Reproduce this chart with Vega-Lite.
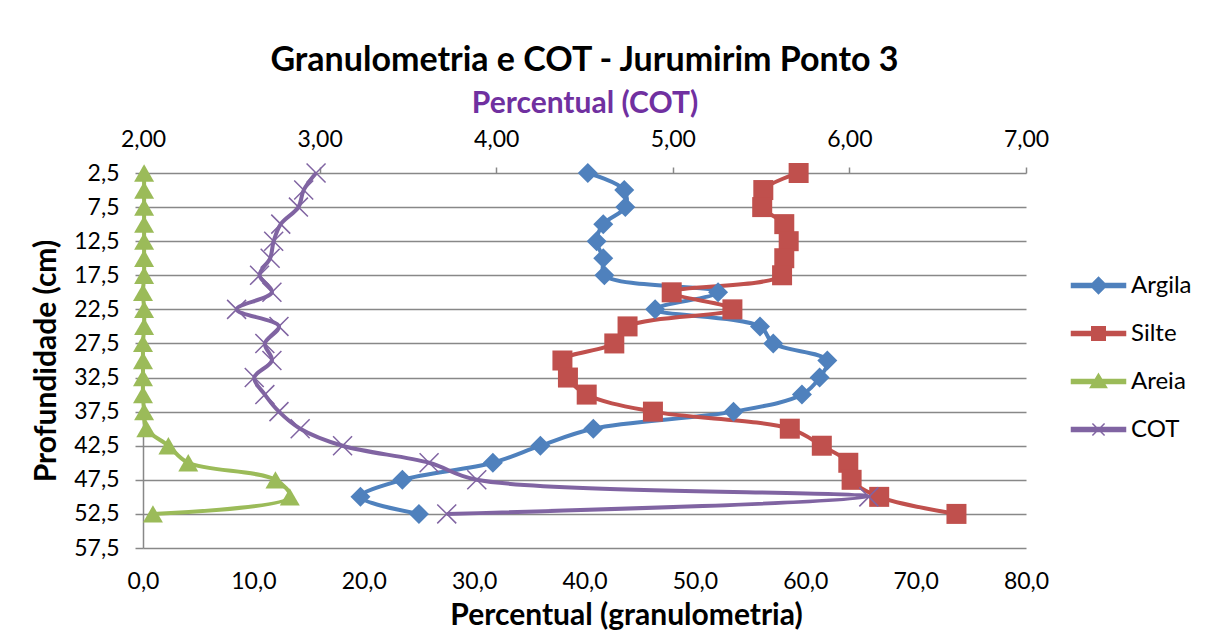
{
  "$schema": "https://vega.github.io/schema/vega-lite/v6.json",
  "width": 883,
  "height": 375,
  "autosize": {"type": "none"},
  "padding": {"left": 143, "top": 173, "right": 195, "bottom": 82},
  "background": "white",
  "title": {"text": "Granulometria e COT - Jurumirim Ponto 3", "font": "Lato", "fontSize": 34, "fontWeight": "bold", "color": "black", "anchor": "middle", "offset": 10},
  "datasets": {
    "granulo": [
      {"serie": "Argila", "prof": 2.5, "valor": 40.3},
      {"serie": "Argila", "prof": 5.0, "valor": 43.6},
      {"serie": "Argila", "prof": 7.5, "valor": 43.7},
      {"serie": "Argila", "prof": 10.0, "valor": 41.7},
      {"serie": "Argila", "prof": 12.5, "valor": 41.1},
      {"serie": "Argila", "prof": 15.0, "valor": 41.7},
      {"serie": "Argila", "prof": 17.5, "valor": 41.8},
      {"serie": "Argila", "prof": 20.0, "valor": 52.1},
      {"serie": "Argila", "prof": 22.5, "valor": 46.4},
      {"serie": "Argila", "prof": 25.0, "valor": 55.9},
      {"serie": "Argila", "prof": 27.5, "valor": 57.1},
      {"serie": "Argila", "prof": 30.0, "valor": 62.0},
      {"serie": "Argila", "prof": 32.5, "valor": 61.3},
      {"serie": "Argila", "prof": 35.0, "valor": 59.7},
      {"serie": "Argila", "prof": 37.5, "valor": 53.5},
      {"serie": "Argila", "prof": 40.0, "valor": 40.8},
      {"serie": "Argila", "prof": 42.5, "valor": 36.0},
      {"serie": "Argila", "prof": 45.0, "valor": 31.7},
      {"serie": "Argila", "prof": 47.5, "valor": 23.5},
      {"serie": "Argila", "prof": 50.0, "valor": 19.7},
      {"serie": "Argila", "prof": 52.5, "valor": 25.0},
      {"serie": "Silte", "prof": 2.5, "valor": 59.4},
      {"serie": "Silte", "prof": 5.0, "valor": 56.2},
      {"serie": "Silte", "prof": 7.5, "valor": 56.1},
      {"serie": "Silte", "prof": 10.0, "valor": 58.1},
      {"serie": "Silte", "prof": 12.5, "valor": 58.5},
      {"serie": "Silte", "prof": 15.0, "valor": 58.1},
      {"serie": "Silte", "prof": 17.5, "valor": 57.9},
      {"serie": "Silte", "prof": 20.0, "valor": 47.9},
      {"serie": "Silte", "prof": 22.5, "valor": 53.4},
      {"serie": "Silte", "prof": 25.0, "valor": 43.9},
      {"serie": "Silte", "prof": 27.5, "valor": 42.7},
      {"serie": "Silte", "prof": 30.0, "valor": 38.0},
      {"serie": "Silte", "prof": 32.5, "valor": 38.5},
      {"serie": "Silte", "prof": 35.0, "valor": 40.2},
      {"serie": "Silte", "prof": 37.5, "valor": 46.2},
      {"serie": "Silte", "prof": 40.0, "valor": 58.6},
      {"serie": "Silte", "prof": 42.5, "valor": 61.5},
      {"serie": "Silte", "prof": 45.0, "valor": 63.9},
      {"serie": "Silte", "prof": 47.5, "valor": 64.2},
      {"serie": "Silte", "prof": 50.0, "valor": 66.7},
      {"serie": "Silte", "prof": 52.5, "valor": 73.7},
      {"serie": "Areia", "prof": 2.5, "valor": 0.1},
      {"serie": "Areia", "prof": 5.0, "valor": 0.1},
      {"serie": "Areia", "prof": 7.5, "valor": 0.1},
      {"serie": "Areia", "prof": 10.0, "valor": 0.1},
      {"serie": "Areia", "prof": 12.5, "valor": 0.1},
      {"serie": "Areia", "prof": 15.0, "valor": 0.1},
      {"serie": "Areia", "prof": 17.5, "valor": 0.1},
      {"serie": "Areia", "prof": 20.0, "valor": 0.0},
      {"serie": "Areia", "prof": 22.5, "valor": 0.1},
      {"serie": "Areia", "prof": 25.0, "valor": 0.1},
      {"serie": "Areia", "prof": 27.5, "valor": 0.0},
      {"serie": "Areia", "prof": 30.0, "valor": 0.0},
      {"serie": "Areia", "prof": 32.5, "valor": 0.0},
      {"serie": "Areia", "prof": 35.0, "valor": 0.0},
      {"serie": "Areia", "prof": 37.5, "valor": 0.1},
      {"serie": "Areia", "prof": 40.0, "valor": 0.3},
      {"serie": "Areia", "prof": 42.5, "valor": 2.3},
      {"serie": "Areia", "prof": 45.0, "valor": 4.1},
      {"serie": "Areia", "prof": 47.5, "valor": 12.0},
      {"serie": "Areia", "prof": 50.0, "valor": 13.3},
      {"serie": "Areia", "prof": 52.5, "valor": 0.9}
    ],
    "cot": [
      {"serie": "COT", "prof": 2.5, "cot": 2.98},
      {"serie": "COT", "prof": 5.0, "cot": 2.91},
      {"serie": "COT", "prof": 7.5, "cot": 2.88},
      {"serie": "COT", "prof": 10.0, "cot": 2.78},
      {"serie": "COT", "prof": 12.5, "cot": 2.74},
      {"serie": "COT", "prof": 15.0, "cot": 2.72},
      {"serie": "COT", "prof": 17.5, "cot": 2.66},
      {"serie": "COT", "prof": 20.0, "cot": 2.73},
      {"serie": "COT", "prof": 22.5, "cot": 2.53},
      {"serie": "COT", "prof": 25.0, "cot": 2.77},
      {"serie": "COT", "prof": 27.5, "cot": 2.69},
      {"serie": "COT", "prof": 30.0, "cot": 2.73},
      {"serie": "COT", "prof": 32.5, "cot": 2.63},
      {"serie": "COT", "prof": 35.0, "cot": 2.69},
      {"serie": "COT", "prof": 37.5, "cot": 2.77},
      {"serie": "COT", "prof": 40.0, "cot": 2.89},
      {"serie": "COT", "prof": 42.5, "cot": 3.13},
      {"serie": "COT", "prof": 45.0, "cot": 3.62},
      {"serie": "COT", "prof": 47.5, "cot": 3.89},
      {"serie": "COT", "prof": 50.0, "cot": 6.11},
      {"serie": "COT", "prof": 52.5, "cot": 3.72}
    ]
  },
  "encoding": {
    "y": {
      "field": "prof", "type": "quantitative",
      "scale": {"domain": [2.5, 57.5], "reverse": true, "nice": false, "zero": false},
      "axis": {
        "values": [2.5, 7.5, 12.5, 17.5, 22.5, 27.5, 32.5, 37.5, 42.5, 47.5, 52.5, 57.5], "format": ".1f",
        "labelOverlap": false, "labelFlush": false,
        "grid": true, "gridColor": "#888888", "gridWidth": 1.5,
        "domain": true, "domainColor": "#888888", "domainWidth": 1.5,
        "ticks": true, "tickSize": 8, "tickColor": "#888888", "tickWidth": 1.5,
        "labelPadding": 16, "labelFont": "Lato", "labelFontSize": 23, "labelColor": "black",
        "title": "Profundidade (cm)", "titleFont": "Lato", "titleFontSize": 30, "titleFontWeight": "bold", "titleColor": "black", "titlePadding": 12
      }
    },
    "color": {
      "field": "serie", "type": "nominal",
      "scale": {"domain": ["Argila", "Silte", "Areia", "COT"], "range": ["#4F81BD", "#C0504D", "#9BBB59", "#8064A2"]},
      "legend": {
        "orient": "none", "legendX": 941, "legendY": 98, "title": null, "padding": 0,
        "labelFont": "Lato", "labelFontSize": 24, "labelColor": "black",
        "symbolSize": 729, "rowPadding": 21, "labelOffset": 18,
        "encode": {
          "symbols": {
            "update": {
              "shape": {"signal": "datum.value === 'Argila' ? 'M-2,-0.15H2V0.15H-2Z M0,-0.6L0.6,0L0,0.6L-0.6,0Z' : datum.value === 'Silte' ? 'M-2,-0.15H2V0.15H-2Z M-0.5,-0.5H0.5V0.5H-0.5Z' : datum.value === 'Areia' ? 'M-2,-0.15H2V0.15H-2Z M0,-0.55L0.6,0.45H-0.6Z' : 'M-2,-0.15H2V0.15H-2Z M-0.45,-0.45L0.45,0.45M-0.45,0.45L0.45,-0.45'"},
              "fill": {"scale": "color", "field": "value"},
              "stroke": {"scale": "color", "field": "value"},
              "strokeWidth": {"value": 1.5},
              "opacity": {"value": 1},
              "strokeDash": {"value": []}
            }
          }
        }
      }
    }
  },
  "layer": [
    {
      "data": {"name": "granulo"},
      "encoding": {
        "x": {
          "field": "valor", "type": "quantitative",
          "scale": {"domain": [0, 80], "nice": false, "zero": false},
          "axis": {
            "orient": "bottom", "values": [0, 10, 20, 30, 40, 50, 60, 70, 80], "format": ".1f",
            "labelOverlap": false, "labelFlush": false,
            "grid": false, "ticks": false, "domain": false, "labelPadding": 22,
            "labelFont": "Lato", "labelFontSize": 23, "labelColor": "black",
            "title": "Percentual (granulometria)", "titleFont": "Lato", "titleFontSize": 30, "titleFontWeight": "bold", "titleColor": "black", "titlePadding": 7, "titleX": 483
          }
        }
      },
      "layer": [
        {
          "mark": {"type": "line", "strokeWidth": 4, "interpolate": "catmull-rom"},
          "encoding": {"order": {"field": "prof", "type": "quantitative"}}
        },
        {
          "mark": {"type": "point", "filled": true, "size": 400, "opacity": 1},
          "encoding": {
            "shape": {
              "field": "serie", "type": "nominal",
              "scale": {"domain": ["Argila", "Silte", "Areia"], "range": ["diamond", "square", "triangle-up"]},
              "legend": null
            }
          }
        }
      ]
    },
    {
      "data": {"name": "cot"},
      "encoding": {
        "x": {
          "field": "cot", "type": "quantitative",
          "scale": {"domain": [2, 7], "nice": false, "zero": false},
          "axis": {
            "orient": "top", "values": [2, 3, 4, 5, 6, 7], "format": ".2f",
            "labelOverlap": false, "labelFlush": false,
            "grid": false, "domain": false, "ticks": true, "tickSize": 6, "tickColor": "#888888", "tickWidth": 1.5,
            "labelPadding": 16, "labelFont": "Lato", "labelFontSize": 23, "labelColor": "black",
            "title": "Percentual (COT)", "titleFont": "Lato", "titleFontSize": 30, "titleFontWeight": "bold", "titleColor": "#7030A0", "titlePadding": 10
          }
        }
      },
      "layer": [
        {
          "mark": {"type": "line", "strokeWidth": 4, "interpolate": "catmull-rom"},
          "encoding": {"order": {"field": "prof", "type": "quantitative"}}
        },
        {
          "mark": {"type": "point", "filled": false, "size": 360, "strokeWidth": 1.5, "opacity": 1, "shape": "M-1,-1L1,1M-1,1L1,-1"}
        }
      ]
    }
  ],
  "resolve": {"scale": {"x": "independent"}, "axis": {"x": "independent"}},
  "config": {
    "locale": {"number": {"decimal": ",", "thousands": ".", "grouping": [3], "currency": ["", ""]}},
    "view": {"stroke": null},
    "font": "Lato"
  }
}
